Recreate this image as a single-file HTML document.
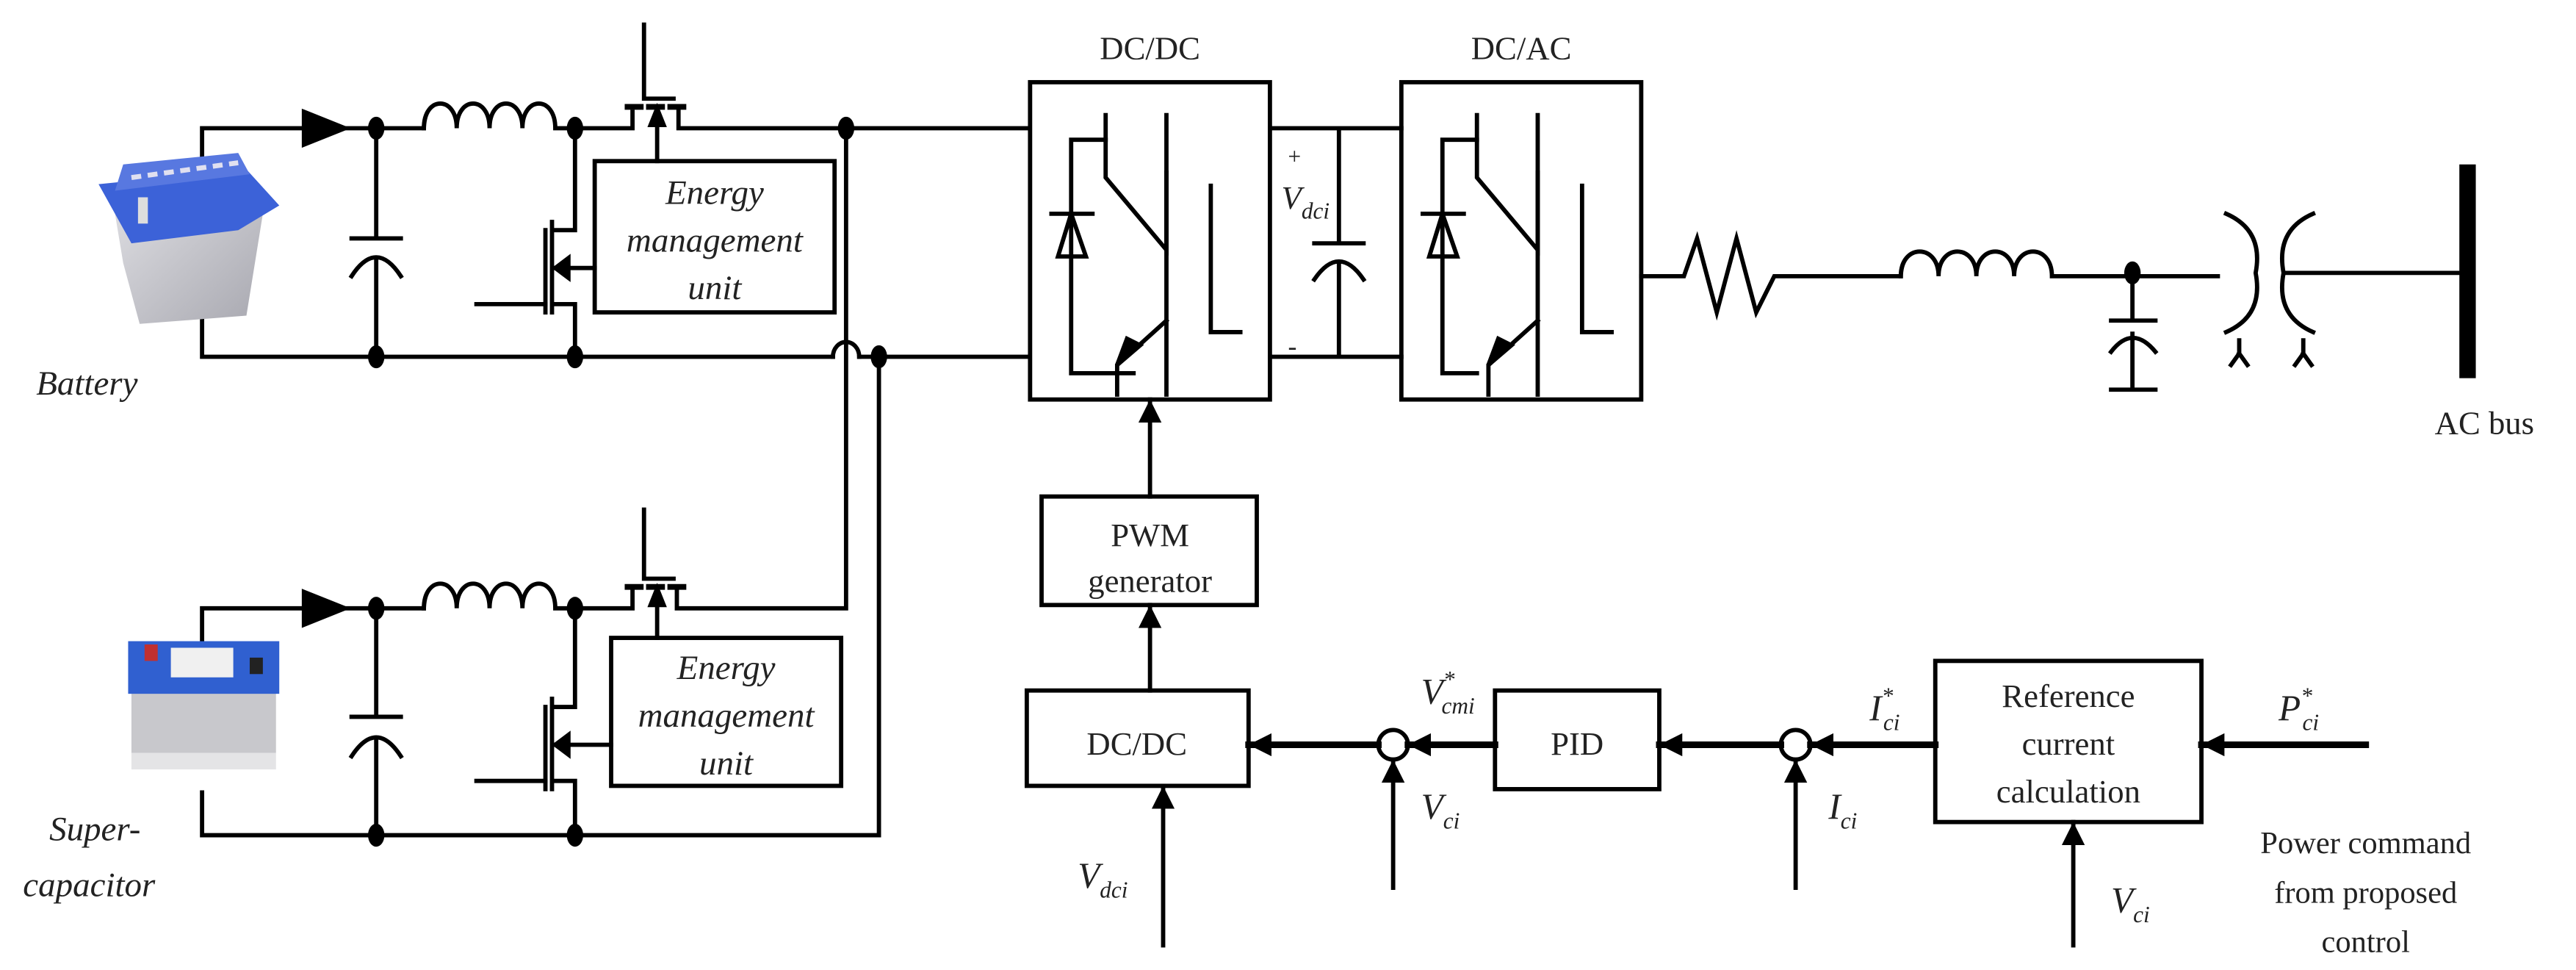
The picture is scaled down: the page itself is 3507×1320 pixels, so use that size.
<!DOCTYPE html>
<html><head><meta charset="utf-8"><style>
html,body{margin:0;padding:0;background:#fff;}
svg{display:block;}
text{font-family:"Liberation Serif",serif;fill:#222;}
.it{font-style:italic;}
</style></head><body>
<svg width="3507" height="1320" viewBox="0 0 1568 590" preserveAspectRatio="none" xmlns="http://www.w3.org/2000/svg">
<defs>
<marker id="ar" viewBox="0 0 10 10" refX="10" refY="5" markerWidth="14" markerHeight="14" markerUnits="userSpaceOnUse" orient="auto"><path d="M0,0 L10,5 L0,10 z" fill="#000"/></marker>
<linearGradient id="bg1" x1="0" y1="0" x2="1" y2="1"><stop offset="0" stop-color="#e2e2e6"/><stop offset="1" stop-color="#a8a8b0"/></linearGradient>
</defs>
<g stroke="#000" stroke-width="2.6" fill="none" stroke-linecap="square">

<!-- ===== Battery circuit ===== -->
<path d="M123,98 V78 H185"/>
<path d="M185,68 L210,78 L185,88 z" fill="#000"/>
<path d="M210,78 H258"/>
<path d="M258,78 c0,-20 20,-20 20,0 c0,-20 20,-20 20,0 c0,-20 20,-20 20,0 c0,-20 20,-20 20,0 H385 V68"/>
<path d="M123,195 V217 H507 M523,217 H625"/>
<path d="M507,217 a8,9 0 0 1 16,0"/>
<path d="M229,78 V145 M214,145 H244 M214,168 Q229,145 244,168 M229,158 V217"/>
<!-- upper mosfet -->
<path d="M392,15 V60 H410"/>
<path d="M382,65 H390 M395,65 H403 M408,65 H416" stroke-width="3.5"/>
<path d="M413,65 V78 H625"/>
<path d="M400,98 V72"/><path d="M396,76 L400,66 L404,76 z" fill="#000"/>
<!-- lower mosfet -->
<path d="M350,78 V140 H336 M336,135 V190 M332,140 V190 M336,163 H362 M336,185 H350 V217"/>
<path d="M290,185 H332"/>
<path d="M338,163 L346,157 L346,169 z" fill="#000"/>
<rect x="362" y="98" width="146" height="92"/>
<!-- vertical links -->
<path d="M515,78 V370 H412 V358 M535,217 V508 H123 V482"/>

<!-- ===== Supercap circuit ===== -->
<path d="M123,390 V370 H185"/>
<path d="M185,360 L210,370 L185,380 z" fill="#000"/>
<path d="M210,370 H258"/>
<path d="M258,370 c0,-20 20,-20 20,0 c0,-20 20,-20 20,0 c0,-20 20,-20 20,0 c0,-20 20,-20 20,0 H385 V358"/>
<path d="M229,370 V436 M214,436 H244 M214,460 Q229,437 244,460 M229,450 V508"/>
<path d="M392,310 V352 H410"/>
<path d="M382,357 H390 M395,357 H403 M408,357 H416" stroke-width="3.5"/>
<path d="M400,388 V364"/><path d="M396,368 L400,358 L404,368 z" fill="#000"/>
<path d="M350,370 V430 H336 M336,425 V480 M332,430 V480 M336,453 H372 M336,475 H350 V508"/>
<path d="M290,475 H332"/>
<path d="M338,453 L346,447 L346,459 z" fill="#000"/>
<rect x="372" y="388" width="140" height="90"/>

<!-- ===== DC/DC and DC/AC ===== -->
<rect x="627" y="50" width="146" height="193"/>
<rect x="853" y="50" width="146" height="193"/>
<path d="M773,78 H853 M773,217 H853 M815,78 V148 M800,148 H830 M800,170 Q815,148 830,170 M815,160 V217"/>
<g>
<path d="M673,70 V108 L710,152 V70"/>
<path d="M710,105 V240"/>
<path d="M710,195 L680,222 V240"/>
<path d="M680,222 L694,210 L686,206 z" fill="#000"/>
<path d="M673,85 H652 V227 H690"/>
<path d="M640,130 H665 M644,156 H661 L652,130 z"/>
<path d="M737,113 V202 H755"/>
</g>
<g transform="translate(226,0)">
<path d="M673,70 V108 L710,152 V70"/>
<path d="M710,105 V240"/>
<path d="M710,195 L680,222 V240"/>
<path d="M680,222 L694,210 L686,206 z" fill="#000"/>
<path d="M673,85 H652 V227 H673"/>
<path d="M640,130 H665 M644,156 H661 L652,130 z"/>
<path d="M737,113 V202 H755"/>
</g>
<!-- AC side -->
<path d="M999,168 H1025 L1033,145 L1045,190 L1057,145 L1069,190 L1080,168 H1157"/>
<path d="M1157,168 c0,-20 23,-20 23,0 c0,-20 23,-20 23,0 c0,-20 23,-20 23,0 c0,-20 23,-20 23,0 H1350"/>
<path d="M1298,168 V195 M1285,195 H1312 M1285,214 Q1298,197 1312,214 M1298,203 V237 M1285,237 H1312"/>
<path d="M1355,130 Q1378,140 1373,166 Q1378,192 1355,202"/>
<path d="M1408,130 Q1385,140 1390,166 Q1385,192 1408,202"/>
<path d="M1390,166 H1497"/>
<path d="M1363,207 V215 L1358,222 M1363,215 L1368,222 M1402,207 V215 L1397,222 M1402,215 L1407,222"/>
<path d="M1502,100 V230" stroke-width="10" stroke-linecap="butt"/>

<!-- ===== Control ===== -->
<rect x="634" y="302" width="131" height="66"/>
<rect x="625" y="420" width="135" height="58"/>
<rect x="910" y="420" width="100" height="60"/>
<rect x="1178" y="402" width="162" height="98"/>
<path d="M700,302 V243" marker-end="url(#ar)"/>
<path d="M700,420 V368" marker-end="url(#ar)"/>
<path d="M708,575 V478" marker-end="url(#ar)"/>
<circle cx="848" cy="453" r="9"/>
<circle cx="1093" cy="453" r="9"/>
<path d="M839,453 H760" marker-end="url(#ar)" stroke-width="4"/>
<path d="M910,453 H857" marker-end="url(#ar)" stroke-width="4"/>
<path d="M1084,453 H1010" marker-end="url(#ar)" stroke-width="4"/>
<path d="M1178,453 H1102" marker-end="url(#ar)" stroke-width="4"/>
<path d="M1440,453 H1340" marker-end="url(#ar)" stroke-width="4"/>
<path d="M848,540 V462" marker-end="url(#ar)"/>
<path d="M1093,540 V462" marker-end="url(#ar)"/>
<path d="M1262,575 V500" marker-end="url(#ar)"/>
</g>
<g fill="#000">
<ellipse cx="229" cy="78" rx="5" ry="7"/><ellipse cx="350" cy="78" rx="5" ry="7"/><ellipse cx="515" cy="78" rx="5" ry="7"/>
<ellipse cx="229" cy="217" rx="5" ry="7"/><ellipse cx="350" cy="217" rx="5" ry="7"/><ellipse cx="535" cy="217" rx="5" ry="7"/>
<ellipse cx="229" cy="370" rx="5" ry="7"/><ellipse cx="350" cy="370" rx="5" ry="7"/>
<ellipse cx="229" cy="508" rx="5" ry="7"/><ellipse cx="350" cy="508" rx="5" ry="7"/>
<ellipse cx="1298" cy="166" rx="5" ry="7"/>
</g>
<!-- battery image -->
<g>
<path d="M68,118 L150,110 L160,130 L150,192 L85,197 L75,160 z" fill="url(#bg1)"/>
<path d="M60,112 L150,103 L170,125 L145,140 L80,148 z" fill="#3c62d8"/>
<path d="M75,100 L145,93 L152,106 L70,116 z" fill="#5878e0"/>
<path d="M80,108 L145,99" stroke="#e0e0f0" stroke-width="3" stroke-dasharray="6 4"/>
<rect x="84" y="120" width="6" height="16" fill="#ddd"/>
</g>
<g>
<rect x="80" y="398" width="88" height="60" fill="#c8c8cc"/>
<rect x="78" y="390" width="92" height="32" fill="#3060d0"/>
<rect x="104" y="394" width="38" height="18" fill="#f0f0f0"/>
<rect x="88" y="392" width="8" height="10" fill="#c03030"/>
<rect x="152" y="400" width="8" height="10" fill="#222"/>
<rect x="80" y="458" width="88" height="10" fill="#e4e4e6"/>
</g>
<g>
<text x="22" y="240" class="it" font-size="21">Battery</text>
<text x="30" y="511" class="it" font-size="21">Super-</text>
<text x="14" y="545" class="it" font-size="21">capacitor</text>
<text x="435" y="124" text-anchor="middle" class="it" font-size="21">Energy</text>
<text x="435" y="153" text-anchor="middle" class="it" font-size="21">management</text>
<text x="435" y="182" text-anchor="middle" class="it" font-size="21">unit</text>
<text x="442" y="413" text-anchor="middle" class="it" font-size="21">Energy</text>
<text x="442" y="442" text-anchor="middle" class="it" font-size="21">management</text>
<text x="442" y="471" text-anchor="middle" class="it" font-size="21">unit</text>
<text x="700" y="36" text-anchor="middle" font-size="20">DC/DC</text>
<text x="926" y="36" text-anchor="middle" font-size="20">DC/AC</text>
<text x="784" y="100" font-size="14">+</text>
<text x="784" y="216" font-size="16">-</text>
<text x="780" y="127" class="it" font-size="20">V<tspan font-size="14" dy="6">dci</tspan></text>
<text x="1482" y="264" font-size="20">AC bus</text>
<text x="700" y="332" text-anchor="middle" font-size="20">PWM</text>
<text x="700" y="360" text-anchor="middle" font-size="20">generator</text>
<text x="692" y="459" text-anchor="middle" font-size="20">DC/DC</text>
<text x="960" y="459" text-anchor="middle" font-size="20">PID</text>
<text x="1259" y="430" text-anchor="middle" font-size="20">Reference</text>
<text x="1259" y="459" text-anchor="middle" font-size="20">current</text>
<text x="1259" y="488" text-anchor="middle" font-size="20">calculation</text>
<text x="656" y="540" class="it" font-size="22">V<tspan font-size="14" dy="6">dci</tspan></text>
<text x="865" y="428" class="it" font-size="22">V<tspan font-size="14" dy="-10">*</tspan><tspan font-size="14" dx="-8" dy="16">cmi</tspan></text>
<text x="865" y="498" class="it" font-size="22">V<tspan font-size="14" dy="6">ci</tspan></text>
<text x="1113" y="498" class="it" font-size="22">I<tspan font-size="14" dy="6">ci</tspan></text>
<text x="1138" y="438" class="it" font-size="22">I<tspan font-size="14" dy="-10">*</tspan><tspan font-size="14" dx="-6" dy="16">ci</tspan></text>
<text x="1387" y="438" class="it" font-size="22">P<tspan font-size="14" dy="-10">*</tspan><tspan font-size="14" dx="-6" dy="16">ci</tspan></text>
<text x="1285" y="555" class="it" font-size="22">V<tspan font-size="14" dy="6">ci</tspan></text>
<text x="1440" y="519" text-anchor="middle" font-size="19">Power command</text>
<text x="1440" y="549" text-anchor="middle" font-size="19">from proposed</text>
<text x="1440" y="579" text-anchor="middle" font-size="19">control</text>
</g>
</svg>
</body></html>
